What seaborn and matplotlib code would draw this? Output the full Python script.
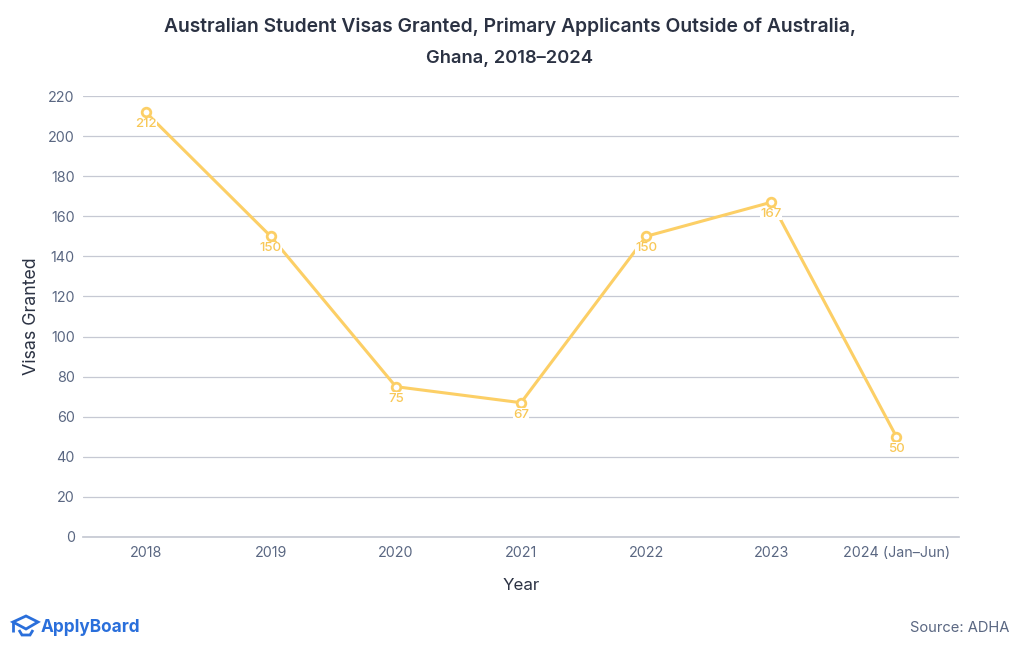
import matplotlib
matplotlib.use('Agg')
import matplotlib.pyplot as plt
from matplotlib.patches import Polygon
import pandas as pd
import seaborn as sns

years = ['2018', '2019', '2020', '2021', '2022', '2023', '2024 (Jan–Jun)']
visas = [212, 150, 75, 67, 150, 167, 50]
y_ticks = list(range(0, 221, 20))

sns.set_theme(style="white")
plt.rcParams['font.family'] = ['Inter', 'DejaVu Sans']

YELLOW = '#fccf66'
LABEL = '#f8c858'
GREY = '#5a6782'
DARK = '#2b3243'
BLUE = '#2a6fdb'

df = pd.DataFrame({'year': years, 'visas': visas})

fig = plt.figure(figsize=(10.2, 6.5), dpi=100)
ax = fig.add_axes([83/1020, 1-537/650, (959-83)/1020, (537-96)/650])

sns.lineplot(data=df, x='year', y='visas', ax=ax, color=YELLOW, linewidth=2.2, sort=False,
             marker='o', markersize=6.2, markerfacecolor='white', markeredgecolor=YELLOW,
             markeredgewidth=2, errorbar=None)

# value labels sit on a white box, which breaks the line around them
for i, v in enumerate(visas):
    ax.annotate(str(v), (i, v), xytext=(0, -8.6), textcoords='offset points', ha='center', va='center',
                fontsize=9.6, color=LABEL, fontweight='medium', zorder=5,
                bbox=dict(facecolor='white', edgecolor='none', pad=0.2))

ax.set_xlim(-0.5, 6.5)
ax.set_ylim(0, 220)
ax.set_yticks(y_ticks)
ax.grid(axis='y', color='#c6c9d3', linewidth=0.9)
ax.grid(axis='x', visible=False)
ax.set_axisbelow(True)
for s in ['top', 'right', 'left']:
    ax.spines[s].set_visible(False)
ax.spines['bottom'].set_color('#c6c9d3')
ax.tick_params(axis='both', length=0, labelsize=10.3, labelcolor=GREY)
ax.tick_params(axis='x', pad=6.3)
ax.tick_params(axis='y', pad=6)
ax.set_xlabel('Year', fontsize=12.2, color=DARK, labelpad=13.2)
ax.set_ylabel('Visas Granted', fontsize=12.8, color=DARK, labelpad=6)

fig.text(510/1020, 1-27/650, 'Australian Student Visas Granted, Primary Applicants Outside of Australia,',
         ha='center', va='center', fontsize=13.9, fontweight='semibold', color=DARK)
fig.text(510/1020, 1-58.5/650, 'Ghana, 2018–2024', ha='center', va='center', fontsize=13.2, fontweight='semibold', color=DARK)

fig.text(1009/1020, 1-628/650, 'Source: ADHA', ha='right', va='center', fontsize=10.6, color=GREY)
fig.text(41/1020, 1-627/650, 'ApplyBoard', ha='left', va='center', fontsize=12.4, fontweight='bold', color=BLUE)

# logo: mortarboard outline and chin strap
cap = Polygon([[13/1020, 1-622/650], [26/1020, 1-616/650], [38/1020, 1-622/650], [26/1020, 1-629/650]],
              closed=True, fill=False, edgecolor=BLUE, linewidth=2, transform=fig.transFigure)
fig.add_artist(cap)
base = Polygon([[13/1020, 1-622/650], [13/1020, 1-632/650]], closed=False, fill=False, edgecolor=BLUE,
               linewidth=2, transform=fig.transFigure)
fig.add_artist(base)
strap = Polygon([[19/1020, 1-630/650], [22/1020, 1-635/650], [30/1020, 1-635/650], [33/1020, 1-630/650]],
                closed=False, fill=False, edgecolor=BLUE, linewidth=2, transform=fig.transFigure)
fig.add_artist(strap)

fig.savefig('out.png', dpi=100)
